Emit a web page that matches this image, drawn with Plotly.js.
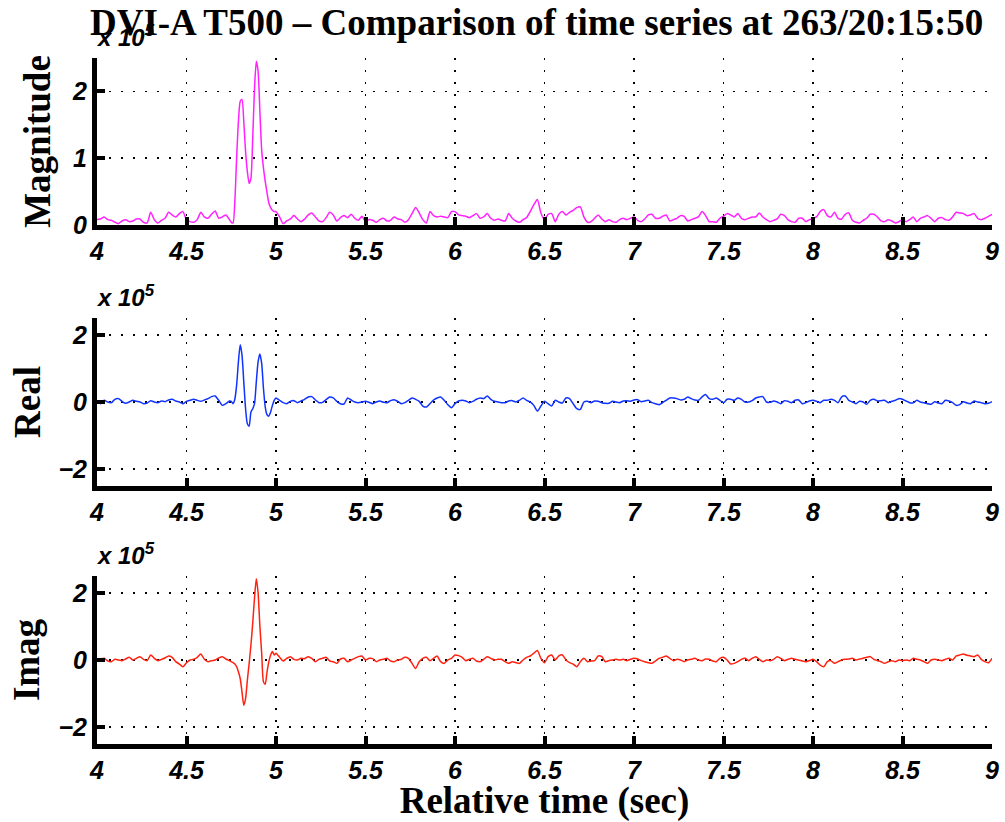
<!DOCTYPE html>
<html>
<head>
<meta charset="utf-8">
<script src="https://cdn.plot.ly/plotly-3.0.1.min.js"></script>
<style>html,body{margin:0;padding:0;background:#fff;}#chart{width:1005px;height:822px;}</style>
</head>
<body>
<div id="chart"></div>
<script>
// ---- Data (values in units of 1e5) ----
// Sample times: 4.00-4.74 every 0.02 s, 4.75-4.99 every 0.01 s, 5.00-9.00 every 0.02 s
const timeSegments = [
  {start: 4.00, step: 0.02, count: 38},
  {start: 4.75, step: 0.01, count: 25},
  {start: 5.00, step: 0.02, count: 201}
];

const magnitude = [
  0.08,0.09,0.12,0.08,0.07,0.04,0.02,0.06,0.08,0.05,
  0.06,0.09,0.09,0.04,0.03,0.19,0.08,0.03,0.07,0.10,
  0.19,0.15,0.12,0.17,0.20,0.08,0.05,0.04,0.08,0.19,
  0.12,0.10,0.16,0.21,0.10,0.12,0.15,0.08,
  0.04,0.03,0.35,1.0,1.55,1.85,1.88,1.55,1.1,0.8,
  0.62,0.7,1.3,2.05,2.45,2.3,1.7,1.12,0.85,0.65,
  0.48,0.33,0.26,0.22,0.2,
  0.2,0.12,0.02,0.06,0.09,0.14,0.09,0.05,0.09,0.15,
  0.18,0.12,0.06,0.05,0.11,0.19,0.15,0.06,0.11,0.14,
  0.11,0.16,0.1,0.07,0.13,0.05,0.08,0.07,0.04,0.08,
  0.1,0.06,0.07,0.12,0.09,0.08,0.04,0.08,0.17,0.26,
  0.18,0.08,0.03,0.2,0.14,0.12,0.13,0.12,0.11,0.2,
  0.2,0.15,0.14,0.13,0.11,0.14,0.17,0.1,0.12,0.17,
  0.1,0.07,0.09,0.07,0.06,0.17,0.1,0.06,0.04,0.08,
  0.11,0.2,0.3,0.38,0.18,0.08,0.16,0.17,0.05,0.16,
  0.2,0.15,0.19,0.22,0.26,0.27,0.12,0.04,0.05,0.1,
  0.15,0.09,0.05,0.08,0.05,0.04,0.08,0.1,0.08,0.1,
  0.12,0.07,0.05,0.09,0.15,0.16,0.1,0.1,0.13,0.15,
  0.06,0.08,0.1,0.14,0.13,0.06,0.08,0.1,0.12,0.2,
  0.14,0.05,0.05,0.04,0.1,0.13,0.17,0.15,0.12,0.17,
  0.1,0.08,0.1,0.12,0.12,0.18,0.12,0.08,0.05,0.07,
  0.09,0.16,0.14,0.08,0.05,0.04,0.1,0.1,0.05,0.08,
  0.1,0.12,0.2,0.23,0.14,0.12,0.19,0.1,0.09,0.16,
  0.18,0.07,0.04,0.03,0.07,0.1,0.16,0.16,0.12,0.06,
  0.05,0.08,0.06,0.03,0.05,0.08,0.05,0.08,0.12,0.05,
  0.1,0.12,0.14,0.1,0.05,0.1,0.11,0.08,0.07,0.12,
  0.19,0.18,0.17,0.14,0.15,0.17,0.1,0.08,0.1,0.13,
  0.16
];

const realPart = [
  0.02,-0.05,0.05,0.0,-0.02,0.08,0.1,0.02,-0.04,0.0,
  0.05,0.02,0.0,-0.05,-0.03,0.04,0.0,-0.02,0.03,0.01,
  0.06,0.08,0.03,0.0,-0.05,0.02,0.05,0.08,0.05,0.02,
  0.06,0.1,0.16,0.18,0.05,-0.1,-0.05,0.03,
  0.02,-0.05,0.08,0.5,1.2,1.7,1.4,0.6,-0.2,-0.65,
  -0.72,-0.3,-0.2,-0.05,0.6,1.2,1.43,1.15,0.4,-0.15,
  -0.38,-0.42,-0.3,-0.1,0.05,
  0.12,0.05,-0.02,-0.05,0.02,0.04,-0.02,0.03,0.08,0.15,
  0.16,0.06,-0.02,-0.01,0.07,0.15,0.12,0.02,-0.05,-0.06,
  0.12,0.06,0.0,-0.02,0.0,0.02,-0.01,-0.05,0.0,0.03,
  -0.01,-0.02,0.04,0.07,0.02,-0.05,-0.02,0.05,0.12,0.08,
  0.02,-0.12,-0.15,-0.05,0.06,0.12,0.15,0.05,-0.08,-0.17,
  -0.05,0.03,0.05,0.03,-0.02,0.02,0.08,0.12,0.1,0.18,
  0.08,0.02,0.0,-0.02,-0.02,0.03,0.04,0.0,0.05,0.12,
  0.05,0.0,-0.1,-0.27,-0.12,0.02,-0.05,-0.12,0.05,0.0,
  -0.03,0.12,0.1,-0.05,-0.2,-0.22,0.0,0.02,-0.02,0.03,
  0.02,-0.02,-0.04,-0.04,0.02,0.0,-0.02,0.03,0.04,0.02,
  0.06,0.07,0.01,0.03,0.05,-0.02,-0.05,-0.08,-0.02,0.05,
  0.12,0.12,0.1,0.06,0.08,0.15,0.1,0.06,0.05,0.15,
  0.22,0.1,0.08,0.12,0.05,-0.02,0.08,0.08,0.05,0.12,
  0.08,0.0,0.0,0.04,0.12,0.15,0.16,0.0,-0.01,0.03,
  0.0,-0.05,0.04,0.02,-0.02,0.05,0.06,-0.05,-0.02,0.03,
  0.05,0.02,-0.02,0.05,0.05,0.08,0.05,-0.02,0.15,0.18,
  0.05,0.0,-0.05,0.02,0.0,-0.07,0.05,0.08,0.03,0.04,
  0.05,-0.02,0.02,0.05,0.1,0.08,0.03,-0.02,-0.02,0.05,
  0.0,-0.02,-0.05,-0.07,0.01,-0.03,-0.05,0.05,0.03,-0.02,
  -0.1,-0.08,0.01,-0.03,-0.05,0.03,0.0,-0.02,-0.05,-0.04,
  0.01
];

const imagPart = [
  0.0,0.03,0.05,-0.03,-0.05,0.02,0.0,-0.02,0.03,0.08,
  0.0,0.05,0.1,0.02,-0.02,0.15,0.05,-0.02,0.02,0.06,
  0.12,0.08,-0.05,-0.12,-0.2,-0.08,0.0,0.02,0.08,0.18,
  0.02,-0.05,-0.02,0.0,0.06,0.1,0.03,-0.02,
  -0.05,-0.08,-0.12,-0.2,-0.35,-0.55,-0.95,-1.35,-1.15,-0.6,
  -0.1,0.45,1.1,1.85,2.42,2.0,1.0,0.2,-0.65,-0.72,
  -0.35,-0.05,0.15,0.25,0.15,
  0.2,0.08,-0.03,0.05,0.1,0.02,0.0,0.05,0.04,0.1,
  0.05,-0.05,0.02,0.05,0.08,-0.03,-0.05,-0.1,0.03,0.05,
  -0.05,0.0,0.05,0.1,0.12,0.0,0.05,0.04,-0.05,0.0,
  0.02,0.05,-0.03,-0.05,0.0,0.02,0.08,0.05,-0.1,-0.25,
  -0.05,0.05,0.08,-0.02,0.05,0.12,-0.05,-0.1,0.0,0.05,
  0.15,0.13,0.08,-0.02,0.02,0.05,-0.03,-0.05,0.02,0.1,
  0.05,0.0,0.02,0.02,-0.05,-0.1,-0.05,-0.08,-0.1,0.0,
  0.08,0.12,0.2,0.28,0.05,-0.08,0.1,0.15,0.0,0.12,
  0.15,0.0,-0.08,-0.12,-0.2,-0.05,0.05,-0.05,-0.03,-0.02,
  0.12,0.1,-0.05,-0.02,0.0,0.02,0.0,0.02,-0.02,0.02,
  0.05,0.03,-0.02,-0.05,-0.08,-0.1,-0.03,0.05,0.08,0.12,
  0.05,-0.02,0.02,0.0,-0.05,0.0,0.02,0.05,0.0,-0.02,
  0.03,0.02,-0.03,-0.05,0.05,0.08,0.0,-0.12,-0.1,-0.05,
  0.02,0.05,-0.02,0.05,0.1,0.02,-0.05,0.0,-0.02,0.02,
  0.1,0.05,-0.02,0.02,0.05,0.02,0.0,-0.03,-0.05,-0.02,
  0.02,-0.05,-0.15,-0.2,-0.05,-0.02,-0.1,-0.05,0.0,0.02,
  0.03,0.05,0.0,0.03,0.05,0.08,0.1,0.02,-0.02,-0.05,
  -0.1,-0.05,-0.02,-0.05,0.0,-0.02,0.0,-0.02,0.05,0.02,
  0.0,-0.05,-0.1,0.0,0.02,0.0,-0.02,0.02,0.05,0.0,
  0.12,0.15,0.18,0.14,0.12,0.1,0.15,0.02,-0.05,-0.08,
  0.05
];

const xTickVals = [4, 4.5, 5, 5.5, 6, 6.5, 7, 7.5, 8, 8.5, 9];
const xTickText = ['4', '4.5', '5', '5.5', '6', '6.5', '7', '7.5', '8', '8.5', '9'];
const magTickVals = [0, 1, 2];
const magTickText = ['0', '1', '2'];
const riTickVals = [-2, 0, 2];
const riTickText = ['\u22122', '0', '2'];

const titleText = 'DVI-A T500 \u2013 Comparison of time series at 263/20:15:50';
const panelNames = ['Magnitude', 'Real', 'Imag'];
const xTitleText = 'Relative time (sec)';

// ---- Build time axis ----
const t = [];
timeSegments.forEach(s => { for (let i = 0; i < s.count; i++) t.push(+(s.start + i * s.step).toFixed(3)); });

const lineShape = {shape: 'spline', smoothing: 0.6, width: 1.5};
const traces = [
  {x: t, y: magnitude, xaxis: 'x', yaxis: 'y', type: 'scatter', mode: 'lines', line: Object.assign({color: '#ff22ff'}, lineShape), hoverinfo: 'skip'},
  {x: t, y: realPart, xaxis: 'x2', yaxis: 'y2', type: 'scatter', mode: 'lines', line: Object.assign({color: '#1133ff'}, lineShape), hoverinfo: 'skip'},
  {x: t, y: imagPart, xaxis: 'x3', yaxis: 'y3', type: 'scatter', mode: 'lines', line: Object.assign({color: '#ff2211'}, lineShape), hoverinfo: 'skip'}
];

const tickFont = {family: 'Liberation Sans, Arial, sans-serif', size: 25, weight: 'bold', style: 'italic', color: '#000'};
const serifFont = {family: 'Liberation Serif, Times New Roman, serif', size: 37, weight: 'bold', color: '#000'};
const gridStyle = {showgrid: true, gridcolor: '#000', griddash: '2px,10px', gridwidth: 1.5, zeroline: false,
  showline: true, linecolor: '#000', linewidth: 5, ticks: 'inside', ticklen: 8, tickwidth: 4, tickcolor: '#000',
  tickfont: tickFont, mirror: false, fixedrange: true};

function xAxis(anchor, withTitle) {
  const a = Object.assign({}, gridStyle, {anchor: anchor, range: [4, 9], tickmode: 'array', tickvals: xTickVals, ticktext: xTickText});
  if (withTitle) a.title = {text: xTitleText, font: serifFont, standoff: 6};
  return a;
}
function yAxis(anchor, domain, range, vals, text, name, standoff) {
  return Object.assign({}, gridStyle, {anchor: anchor, domain: domain, range: range, tickmode: 'array', tickvals: vals, ticktext: text,
    title: {text: name, font: serifFont, standoff: standoff}});
}

const expFont = {family: 'Liberation Sans, Arial, sans-serif', size: 24, weight: 'bold', style: 'italic', color: '#000'};
const domains = [[0.7566, 1.0], [0.3761, 0.621], [0.0, 0.2449]];
const annotations = domains.map(d => ({
  text: 'x 10<sup>5</sup>', xref: 'paper', yref: 'paper', x: 0, y: d[1], xanchor: 'left', yanchor: 'bottom',
  yshift: 5, xshift: -3, showarrow: false, font: expFont
}));

const layout = {
  width: 1005, height: 822,
  margin: {l: 97, r: 13, t: 58, b: 78},
  paper_bgcolor: '#fff', plot_bgcolor: '#fff',
  showlegend: false,
  title: {text: titleText, font: serifFont, x: 0.534, xref: 'container', xanchor: 'center', y: 0.973, yref: 'container', yanchor: 'middle'},
  xaxis: xAxis('y', false),
  xaxis2: xAxis('y2', false),
  xaxis3: xAxis('y3', true),
  yaxis: yAxis('x', domains[0], [0, 2.5], magTickVals, magTickText, panelNames[0], 12),
  yaxis2: yAxis('x2', domains[1], [-2.5, 2.5], riTickVals, riTickText, panelNames[1], 8),
  yaxis3: yAxis('x3', domains[2], [-2.5, 2.5], riTickVals, riTickText, panelNames[2], 9),
  annotations: annotations
};

Plotly.newPlot('chart', traces, layout, {staticPlot: true, displayModeBar: false});
</script>
</body>
</html>
